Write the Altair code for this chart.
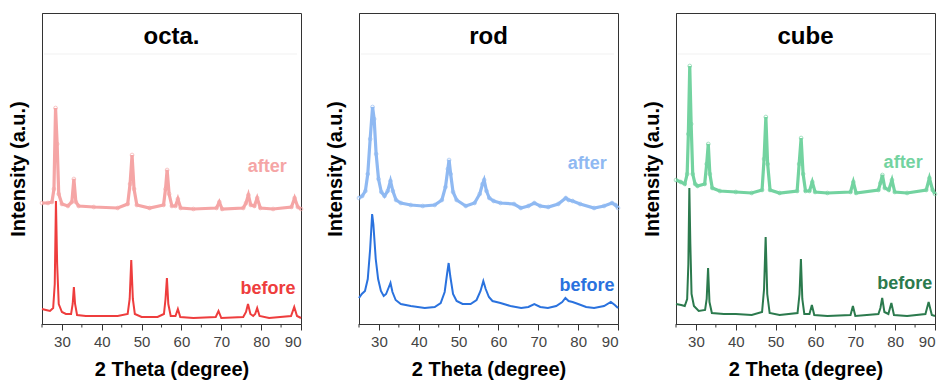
import altair as alt
import pandas as pd

# ---------------- data (2 Theta in degrees, intensity in arbitrary units) ----------------
octa_before_tt = [25.0, 26.0, 27.0, 27.8, 28.2, 28.5, 28.8, 29.2, 30.0, 31.0, 32.3, 32.7, 33.0, 33.3, 33.8,
                  36.0, 40.0, 44.0, 46.5, 47.0, 47.4, 47.8, 48.3, 50.0, 54.0, 55.6, 56.0, 56.35, 56.7, 57.3,
                  58.5, 59.1, 59.7, 63.0, 68.6, 69.3, 70.0, 75.5, 76.2, 76.7, 77.3, 78.0, 78.5, 79.0, 79.6,
                  82.0, 87.5, 88.3, 89.0, 90.0]
octa_before_I = [15, 14, 13, 16, 40, 123, 60, 20, 12, 10, 10, 20, 37, 20, 9,
                 8, 8, 8, 10, 25, 64, 25, 10, 7, 7, 10, 25, 46, 20, 8,
                 8, 15, 7, 6, 7, 13, 6, 7, 12, 20, 10, 8, 10, 16, 8,
                 6, 8, 17, 8, 6]

octa_after_tt = [25.0, 26.5, 27.5, 28.0, 28.4, 28.8, 29.2, 30.0, 31.5, 32.5, 33.0, 33.5, 34.2, 38.0, 44.0,
                 46.5, 47.1, 47.6, 48.1, 48.8, 52.0, 55.5, 56.0, 56.4, 56.9, 57.6, 58.5, 59.1, 59.8, 63.0,
                 68.8, 69.5, 70.2, 75.5, 76.2, 76.8, 77.4, 78.3, 79.0, 79.8, 83.0, 87.6, 88.4, 89.2, 90.0]
octa_after_I = [121, 121, 122, 135, 216, 180, 130, 120, 118, 122, 145, 122, 118, 117, 116,
                120, 140, 169, 135, 119, 116, 119, 135, 154, 130, 118, 118, 125, 116, 115,
                116, 122, 115, 116, 121, 129, 119, 118, 126, 116, 115, 117, 126, 117, 115]

rod_before_tt = [25.0, 25.7, 26.5, 27.2, 27.8, 28.3, 28.6, 29.2, 29.8, 30.5, 31.2, 31.8, 32.5, 32.9, 33.4,
                 34.2, 35.5, 38.0, 41.5, 44.0, 45.5, 46.5, 47.1, 47.5, 47.9, 48.6, 49.5, 51.0, 53.0, 54.5,
                 55.5, 56.2, 56.8, 57.6, 58.5, 60.5, 63.0, 65.7, 67.5, 69.0, 70.5, 72.4, 74.5, 76.0, 76.8,
                 77.6, 78.6, 80.0, 82.0, 84.0, 86.5, 88.2, 89.2, 90.0]
rod_before_I = [26, 30, 33, 45, 75, 110, 100, 65, 45, 33, 28, 30, 37, 41, 32,
                24, 20, 18, 16, 17, 21, 32, 50, 61, 48, 30, 23, 20, 20, 24,
                33, 43, 35, 27, 23, 21, 18, 16, 17, 20, 17, 16, 18, 22, 26,
                23, 22, 20, 17, 16, 18, 22, 19, 16]

rod_after_tt = [25.0, 25.8, 26.6, 27.2, 27.8, 28.4, 28.8, 29.3, 29.9, 30.6, 31.4, 32.2, 32.9, 33.5, 34.3,
                35.5, 38.0, 41.0, 44.0, 45.8, 46.7, 47.3, 47.6, 48.0, 48.6, 49.5, 51.8, 54.0, 55.3, 56.0,
                56.4, 57.0, 57.7, 58.8, 60.5, 63.9, 65.6, 67.5, 69.0, 70.5, 72.5, 75.0, 76.9, 77.6, 78.6,
                80.5, 84.0, 86.5, 88.5, 89.4, 90.0]
rod_after_I = [126, 128, 133, 150, 185, 217, 205, 170, 145, 132, 128, 133, 143, 133, 124,
               121, 119, 118, 119, 124, 137, 155, 164, 150, 132, 124, 118, 121, 130, 140,
               144, 133, 126, 123, 121, 120, 116, 118, 121, 118, 117, 120, 126, 124, 123,
               120, 116, 118, 121, 119, 116]

cube_before_tt = [25.0, 26.3, 27.2, 27.8, 28.1, 28.35, 28.6, 28.9, 29.5, 30.7, 32.3, 32.7, 33.05, 33.4, 34.0,
                  37.0, 40.0, 44.0, 46.6, 47.1, 47.5, 47.9, 48.5, 51.0, 55.5, 56.0, 56.35, 56.7, 57.2, 58.5,
                  59.1, 59.7, 63.0, 68.8, 69.4, 70.0, 75.8, 76.3, 76.75, 77.3, 78.3, 79.05, 79.7, 83.0, 87.6,
                  88.4, 89.2, 90.0]
cube_before_I = [20, 19, 18, 25, 60, 136, 80, 30, 18, 13, 14, 25, 56, 22, 11,
                 10, 10, 9, 12, 35, 87, 30, 11, 9, 11, 30, 65, 25, 10, 10,
                 19, 9, 8, 9, 18, 8, 10, 16, 26, 12, 10, 21, 9, 8, 10,
                 22, 9, 8]

cube_after_tt = [25.0, 26.2, 27.2, 27.8, 28.1, 28.45, 28.8, 29.2, 29.8, 30.4, 32.2, 32.7, 33.1, 33.5, 34.1,
                 36.0, 40.0, 44.0, 46.6, 47.1, 47.55, 48.0, 48.6, 51.0, 55.4, 55.9, 56.4, 56.9, 57.5, 58.5,
                 59.2, 59.9, 63.0, 68.8, 69.5, 70.2, 75.8, 76.3, 76.8, 77.4, 78.4, 79.2, 79.9, 83.0, 87.8,
                 88.6, 89.4, 90.0]
cube_after_I = [144, 142, 140, 150, 190, 258, 200, 150, 140, 138, 140, 160, 180, 150, 136,
                133, 132, 131, 134, 165, 207, 160, 134, 131, 133, 160, 186, 150, 133, 133,
                142, 132, 131, 132, 142, 131, 134, 141, 149, 136, 134, 144, 132, 131, 134,
                146, 134, 130]

panel_names = ["octa.", "rod", "cube"]
series_labels = ["after", "before"]
major_ticks = [30, 40, 50, 60, 70, 80, 90]
minor_ticks = [25, 35, 45, 55, 65, 75, 85]

# ---------------- styling ----------------
FONT = "Liberation Sans"
W, H = 259, 311
Y_MAX = 311

colors = {
    "octa.": ("#ee3d3d", "#f5a5a5"),
    "rod": ("#2a72de", "#8fb9f2"),
    "cube": ("#2b7a4d", "#73d3a0"),
}
# label anchor positions (2 Theta, intensity) for "after" and "before"
label_pos = {
    "octa.": [(81.5, 152), (81.7, 30)],
    "rod": [(82.3, 155), (82.2, 33)],
    "cube": [(82.0, 156), (82.4, 35)],
}


def panel(name, b_tt, b_I, a_tt, a_I):
    c_before, c_after = colors[name]
    df_b = pd.DataFrame({"tt": b_tt, "I": b_I})
    df_a = pd.DataFrame({"tt": a_tt, "I": a_I})

    xs = alt.X("tt:Q",
               scale=alt.Scale(domain=[25, 90], nice=False, zero=False),
               axis=alt.Axis(values=major_ticks, title="2 Theta (degree)", grid=False,
                             tickSize=6, labelPadding=4, titlePadding=10, format="d"))
    ys = alt.Y("I:Q",
               scale=alt.Scale(domain=[0, Y_MAX], nice=False, zero=False),
               axis=alt.Axis(title="Intensity (a.u.)", labels=False, ticks=False, grid=False,
                             titlePadding=14))

    before = alt.Chart(df_b).mark_line(color=c_before, strokeWidth=2).encode(x=xs, y=ys)
    after_line = alt.Chart(df_a).mark_line(color=c_after, strokeWidth=3.2).encode(x="tt:Q", y="I:Q")
    after_pts = alt.Chart(df_a).mark_point(shape="circle", filled=False, color=c_after,
                                           size=14, strokeWidth=0.9).encode(x="tt:Q", y="I:Q")

    lp = label_pos[name]
    lab_df = pd.DataFrame({
        "tt": [lp[0][0], lp[1][0]],
        "I": [lp[0][1], lp[1][1]],
        "t": series_labels,
        "c": [c_after, c_before],
    })
    labels = alt.Chart(lab_df).mark_text(font=FONT, fontSize=18, fontWeight="bold",
                                         align="center", baseline="alphabetic").encode(
        x="tt:Q", y="I:Q", text="t:N", color=alt.Color("c:N", scale=None))

    title = alt.Chart(pd.DataFrame({"t": [name]})).mark_text(
        font=FONT, fontSize=24, fontWeight="bold", align="center", baseline="alphabetic",
        color="black").encode(x=alt.value(W / 2), y=alt.value(31), text="t:N")

    sep = alt.Chart(pd.DataFrame({"a": [0]})).mark_rule(color="#f1f1f1", strokeWidth=1).encode(
        x=alt.value(2), x2=alt.value(W - 4), y=alt.value(41))

    minor = alt.Chart(pd.DataFrame({"tt": minor_ticks})).mark_rule(
        color="#333333", strokeWidth=1).encode(x="tt:Q", y=alt.value(H), y2=alt.value(H + 3.5))

    return alt.layer(sep, after_line, after_pts, before, labels, title, minor).properties(
        width=W, height=H)


p1 = panel("octa.", octa_before_tt, octa_before_I, octa_after_tt, octa_after_I)
p2 = panel("rod", rod_before_tt, rod_before_I, rod_after_tt, rod_after_I)
p3 = panel("cube", cube_before_tt, cube_before_I, cube_after_tt, cube_after_I)

chart = alt.hconcat(p1, p2, p3, spacing=58, bounds="flush").properties(
    padding={"left": 7, "top": 12, "right": 2, "bottom": 0},
    background="white"
).configure_view(
    stroke="#333333", strokeWidth=1
).configure_axis(
    labelFont=FONT, labelFontSize=15, labelColor="#444444",
    titleFont=FONT, titleFontSize=20, titleFontWeight="bold", titleColor="black",
    domainColor="#333333", tickColor="#333333", domainWidth=1, tickWidth=1
)

chart.save("out.html", embed_options={"renderer": "svg", "actions": False})
